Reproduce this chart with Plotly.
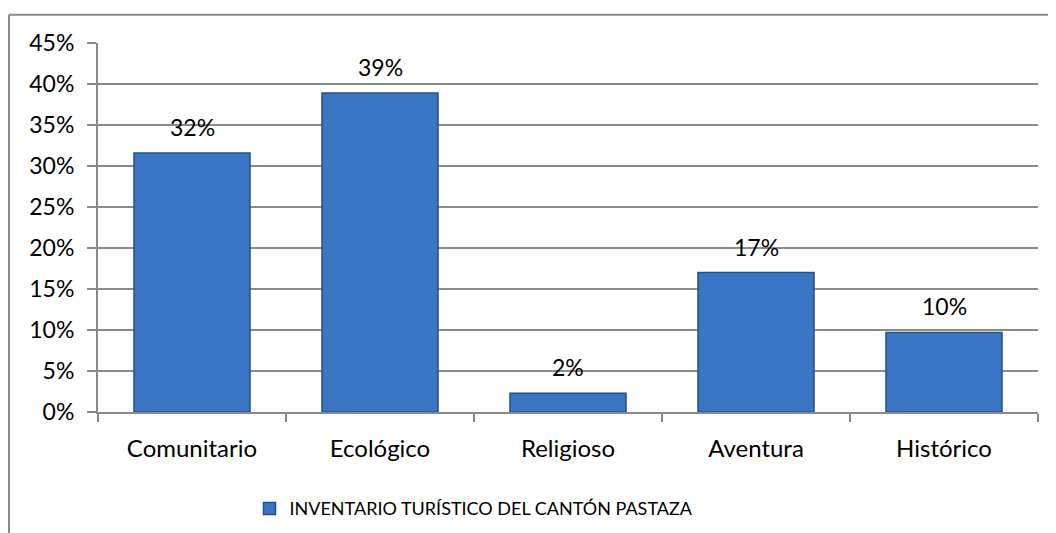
import plotly.graph_objects as go

categorias = ["Comunitario", "Ecológico", "Religioso", "Aventura", "Histórico"]
porcentajes = [0.316, 0.389, 0.023, 0.170, 0.097]
etiquetas = ["32%", "39%", "2%", "17%", "10%"]
serie = "INVENTARIO TURÍSTICO DEL CANTÓN PASTAZA"
ticks_y = [0, 0.05, 0.10, 0.15, 0.20, 0.25, 0.30, 0.35, 0.40, 0.45]
ticks_y_txt = ["0%", "5%", "10%", "15%", "20%", "25%", "30%", "35%", "40%", "45%"]

fuente = "Lato"
tam = 23
gris = "#8a8a8a"

fig = go.Figure()
fig.add_trace(go.Bar(
    x=categorias, y=porcentajes, name=serie,
    marker=dict(color="#3b76c5", line=dict(color="#264f87", width=1.5)),
    showlegend=True,
))

# etiquetas de datos encima de cada barra
for c, v, t in zip(categorias, porcentajes, etiquetas):
    fig.add_annotation(x=c, y=v, text=t, showarrow=False, yshift=26,
                       font=dict(family=fuente, size=tam, color="#000"))

# marco exterior del grafico (arriba e izquierda)
fig.add_shape(type="line", xref="paper", yref="paper", x0=-0.0947, x1=1.05,
              y0=1.0767, y1=1.0767, line=dict(color=gris, width=2))
fig.add_shape(type="line", xref="paper", yref="paper", x0=-0.0947, x1=-0.0947,
              y0=1.0767, y1=-0.35, line=dict(color=gris, width=2))

# la pagina tiene 8px de margen en el body, se compensa en los margenes
fig.update_layout(
    width=1056, height=533,
    margin=dict(l=90, r=26, t=35, b=129),
    paper_bgcolor="white", plot_bgcolor="white",
    bargap=0.383,
    font=dict(family=fuente, size=tam, color="#000"),
    legend=dict(orientation="h", x=0.40, xanchor="center", y=-0.262, yanchor="middle",
                font=dict(family=fuente, size=18), itemclick=False),
    xaxis=dict(showline=True, linecolor=gris, linewidth=2, ticks="outside",
               tickson="boundaries", ticklen=8, tickcolor=gris, tickwidth=2,
               showgrid=False, automargin=False, ticklabelstandoff=14,
               tickfont=dict(family=fuente, size=24)),
    yaxis=dict(range=[0, 0.45], tickvals=ticks_y, ticktext=ticks_y_txt,
               showline=True, linecolor=gris, linewidth=2, ticks="outside",
               ticklen=9, tickcolor=gris, tickwidth=2, showgrid=True,
               gridcolor=gris, gridwidth=1.5, zeroline=False, automargin=False,
               ticklabelstandoff=8, tickfont=dict(family=fuente, size=tam)),
)

fig.write_html("out.html")
